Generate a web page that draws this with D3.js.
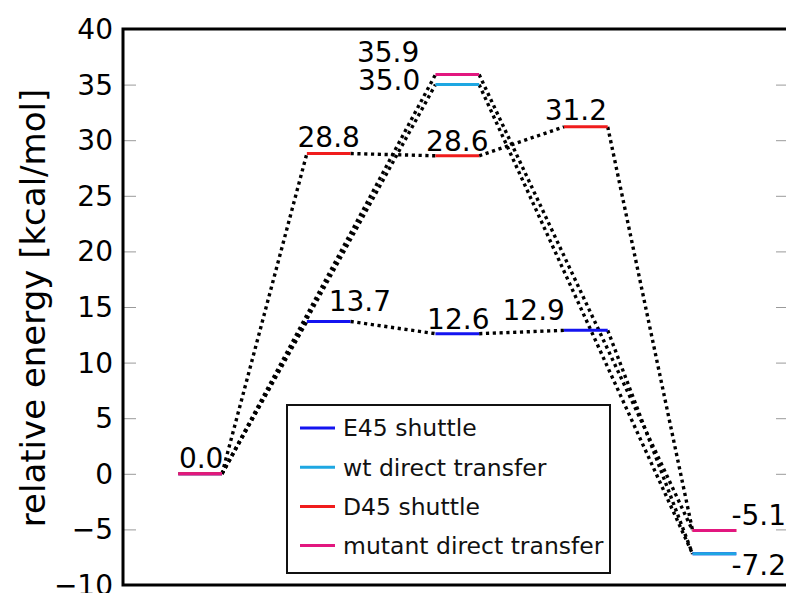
<!DOCTYPE html>
<html>
<head>
<meta charset="utf-8">
<script src="https://cdn.jsdelivr.net/npm/d3@7"></script>
<style>
  html, body { margin: 0; padding: 0; background: #fff; }
  svg { display: block; font-family: "DejaVu Sans", sans-serif; }
</style>
</head>
<body>
<svg id="chart" width="786" height="593"></svg>
<script>
// Reaction-coordinate positions and relative energies (kcal/mol) per pathway
const seriesNames = ["E45 shuttle", "wt direct transfer", "D45 shuttle", "mutant direct transfer"];
const seriesColors = ["#1414f0", "#1ea7e2", "#f01c1c", "#e2177f"];

const e45Pos = [0, 1, 2, 3, 4];
const e45Energy = [0.0, 13.7, 12.6, 12.9, -7.2];

const wtPos = [0, 2, 4];
const wtEnergy = [0.0, 35.0, -7.2];

const d45Pos = [0, 1, 2, 3, 4];
const d45Energy = [0.0, 28.8, 28.6, 31.2, -5.1];

const mutPos = [0, 2, 4];
const mutEnergy = [0.0, 35.9, -5.1];

const yTickValues = [-10, -5, 0, 5, 10, 15, 20, 25, 30, 35, 40];

// Which levels carry a value label, and where the label sits relative to its level
const labelLayout = [
  { s: 3, i: 0, dx: 1,   dy: -6,  anchor: "middle" },
  { s: 0, i: 1, dx: 0,   dy: -10, anchor: "start" },
  { s: 0, i: 2, dx: 1,   dy: -5,  anchor: "middle" },
  { s: 0, i: 3, dx: -21, dy: -10, anchor: "end" },
  { s: 2, i: 1, dx: 0,   dy: -7,  anchor: "middle" },
  { s: 2, i: 2, dx: 0,   dy: -5,  anchor: "middle" },
  { s: 2, i: 3, dx: -10, dy: -7,  anchor: "middle" },
  { s: 3, i: 1, dx: -38, dy: -13, anchor: "end" },
  { s: 1, i: 1, dx: -37, dy: 5,   anchor: "end" },
  { s: 3, i: 2, dx: 17,  dy: -6,  anchor: "start" },
  { s: 1, i: 2, dx: 17,  dy: 21,  anchor: "start" }
];

const series = [
  { pos: e45Pos, energy: e45Energy },
  { pos: wtPos, energy: wtEnergy },
  { pos: d45Pos, energy: d45Energy },
  { pos: mutPos, energy: mutEnergy }
].map((d, k) => ({
  name: seriesNames[k],
  color: seriesColors[k],
  points: d.pos.map((p, j) => ({ pos: p, e: d.energy[j] }))
}));

const svg = d3.select("#chart");
const plot = { left: 123, right: 789, top: 29, bottom: 585 };

const x = d3.scaleLinear().domain([-0.6, 4.58]).range([plot.left, plot.right]);
const y = d3.scaleLinear().domain([-10, 40]).range([plot.bottom, plot.top]);
const halfW = 0.17;

svg.append("rect").attr("width", 786).attr("height", 593).attr("fill", "#fff");

// y ticks: inward on both sides, light grey
const tickLen = 13;
const leftAxis = d3.axisRight(y).tickValues(yTickValues).tickSize(tickLen).tickFormat("");
const rightAxis = d3.axisLeft(y).tickValues(yTickValues).tickSize(tickLen).tickFormat("");
[svg.append("g").attr("transform", `translate(${plot.left},0)`).call(leftAxis),
 svg.append("g").attr("transform", `translate(${plot.right},0)`).call(rightAxis)].forEach(g => {
  g.select(".domain").remove();
  g.selectAll(".tick line").attr("stroke", "#9a9a9a").attr("stroke-width", 1);
});

// tick labels
const fmtTick = d => (d < 0 ? "\u2212" + Math.abs(d) : String(d));
svg.append("g").selectAll("text").data(yTickValues).join("text")
  .attr("x", plot.left - 10)
  .attr("y", d => y(d))
  .attr("dy", "0.36em")
  .attr("text-anchor", "end")
  .attr("font-size", 28)
  .attr("fill", "#000")
  .text(fmtTick);

// axis title
svg.append("text")
  .attr("transform", `translate(45,${(plot.top + plot.bottom) / 2 + 1}) rotate(-90)`)
  .attr("text-anchor", "middle")
  .attr("font-size", 34)
  .attr("fill", "#000")
  .text("relative energy [kcal/mol]");

// dotted connectors: right end of one level to left end of the next
const conn = svg.append("g");
series.forEach(s => {
  for (let j = 0; j < s.points.length - 1; j++) {
    const a = s.points[j], b = s.points[j + 1];
    conn.append("line")
      .attr("x1", x(a.pos + halfW)).attr("y1", y(a.e))
      .attr("x2", x(b.pos - halfW)).attr("y2", y(b.e))
      .attr("stroke", "#000")
      .attr("stroke-width", 3.4)
      .attr("stroke-dasharray", "3.2,3.6");
  }
});

// energy levels
const lev = svg.append("g");
series.forEach(s => {
  lev.selectAll(null).data(s.points).join("line")
    .attr("x1", d => x(d.pos - halfW)).attr("x2", d => x(d.pos + halfW))
    .attr("y1", d => y(d.e)).attr("y2", d => y(d.e))
    .attr("stroke", s.color)
    .attr("stroke-width", 3);
});

// value labels
const fmtVal = d3.format(".1f");
svg.append("g").selectAll("text").data(labelLayout).join("text")
  .attr("x", d => x(series[d.s].points[d.i].pos) + d.dx)
  .attr("y", d => y(series[d.s].points[d.i].e) + d.dy)
  .attr("text-anchor", d => d.anchor)
  .attr("font-size", 28)
  .attr("fill", "#000")
  .text(d => fmtVal(series[d.s].points[d.i].e).replace("\u2212", "-"));

// frame
svg.append("rect")
  .attr("x", plot.left).attr("y", plot.top)
  .attr("width", plot.right - plot.left).attr("height", plot.bottom - plot.top)
  .attr("fill", "none").attr("stroke", "#000").attr("stroke-width", 3);

// legend
const lg = svg.append("g").attr("transform", "translate(287,405)");
lg.append("rect")
  .attr("width", 323).attr("height", 168)
  .attr("fill", "#fff").attr("stroke", "#111").attr("stroke-width", 2);
const rows = lg.selectAll("g").data(series).join("g")
  .attr("transform", (d, k) => `translate(0,${23 + k * 39.2})`);
rows.append("line")
  .attr("x1", 13).attr("x2", 48).attr("y1", 0).attr("y2", 0)
  .attr("stroke", d => d.color).attr("stroke-width", 3);
rows.append("text")
  .attr("x", 56).attr("y", 0).attr("dy", "0.36em")
  .attr("font-size", 23.5)
  .attr("fill", "#111")
  .text(d => d.name);
</script>
</body>
</html>
